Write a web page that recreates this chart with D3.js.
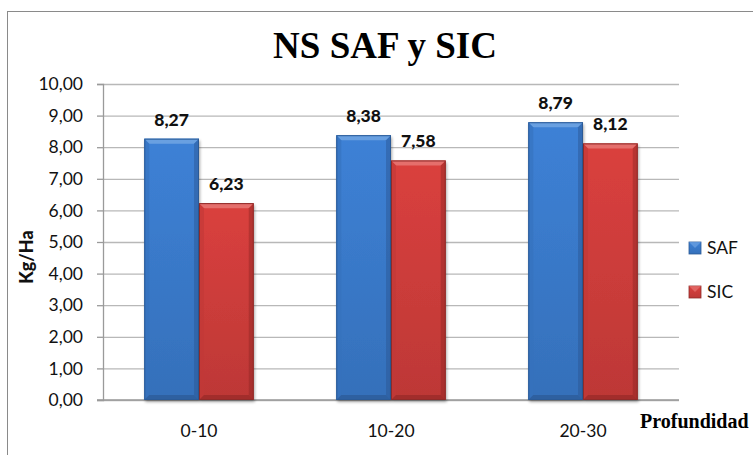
<!DOCTYPE html>
<html>
<head>
<meta charset="utf-8">
<script src="https://cdn.jsdelivr.net/npm/d3@7"></script>
<style>
  html, body { margin: 0; padding: 0; background: #fff; }
  svg { display: block; }
</style>
</head>
<body>
<svg id="chart" width="753" height="455"></svg>
<script>
// Data
const categories = ["0-10", "10-20", "20-30"];
const seriesNames = ["SAF", "SIC"];
const safValues = [8.27, 8.38, 8.79];
const sicValues = [6.23, 7.58, 8.12];
const yTicks = [0, 1, 2, 3, 4, 5, 6, 7, 8, 9, 10];
const titleText = "NS SAF y SIC";
const yTitle = "Kg/Ha";
const xTitle = "Profundidad";

const seriesValues = [safValues, sicValues];
const palette = {
  SAF: { base: "#3a7acb", light: "#6ea3e2", dark: "#2a5590", edge: "#2b5a96" },
  SIC: { base: "#cf3d3b", light: "#e57471", dark: "#8f2624", edge: "#8e2b29" }
};

const svg = d3.select("#chart");
const margin = { left: 103, right: 679, top: 84, bottom: 400 };

const fmt = v => v.toFixed(2).replace(".", ",");

// Outer chart frame
svg.append("rect")
  .attr("x", 7.5).attr("y", 11.5)
  .attr("width", 820).attr("height", 520)
  .attr("fill", "#fff").attr("stroke", "#8a8a8a").attr("stroke-width", 1);

// Scales
const y = d3.scaleLinear().domain([0, 10]).range([margin.bottom, margin.top]);
const x0 = d3.scaleBand().domain(categories).range([margin.left, margin.right]).paddingInner(0.43).paddingOuter(0.215);
const x1 = d3.scaleBand().domain(seriesNames).range([0, x0.bandwidth()]).padding(0);

// Gradients
const defs = svg.append("defs");
seriesNames.forEach(name => {
  const c = palette[name];
  const g = defs.append("linearGradient").attr("id", "grad-" + name)
    .attr("x1", 0).attr("x2", 0).attr("y1", 0).attr("y2", 1);
  g.append("stop").attr("offset", "0%").attr("stop-color", d3.color(c.base).brighter(0.15));
  g.append("stop").attr("offset", "100%").attr("stop-color", d3.color(c.base).darker(0.25));
});
const sh = defs.append("filter").attr("id", "shadow").attr("x", "-10%").attr("y", "-10%").attr("width", "130%").attr("height", "130%");
sh.append("feGaussianBlur").attr("in", "SourceAlpha").attr("stdDeviation", 1.5);
sh.append("feOffset").attr("dx", 1).attr("dy", 2).attr("result", "b");
const shc = sh.append("feComponentTransfer");
shc.append("feFuncA").attr("type", "linear").attr("slope", 0.35);
const mg = sh.append("feMerge");
mg.append("feMergeNode");
mg.append("feMergeNode").attr("in", "SourceGraphic");

// Gridlines
svg.append("g")
  .attr("transform", `translate(${margin.left},0)`)
  .call(d3.axisLeft(y).tickValues(yTicks).tickSize(-(margin.right - margin.left)).tickFormat(""))
  .call(g => g.select(".domain").remove())
  .call(g => g.selectAll(".tick line").attr("stroke", "#b8b8b8").attr("stroke-width", 1.3));

// Y axis with ticks and labels
const yAxis = svg.append("g")
  .attr("transform", `translate(${margin.left},0)`)
  .call(d3.axisLeft(y).tickValues(yTicks).tickSize(6).tickPadding(14).tickFormat(fmt));
yAxis.select(".domain").attr("stroke", "#9a9a9a").attr("stroke-width", 1.3);
yAxis.selectAll(".tick line").attr("stroke", "#9a9a9a").attr("stroke-width", 1.3);
yAxis.selectAll(".tick text")
  .attr("font-family", "Lato, 'Open Sans', sans-serif")
  .attr("font-size", 17.5).attr("fill", "#111");

// X axis baseline
svg.append("line")
  .attr("x1", margin.left - 6).attr("x2", margin.right)
  .attr("y1", y(0)).attr("y2", y(0))
  .attr("stroke", "#9a9a9a").attr("stroke-width", 1.3);

// Bars with bevelled edges
const bv = 5;
categories.forEach((cat, ci) => {
  seriesNames.forEach((name, si) => {
    const v = seriesValues[si][ci];
    const c = palette[name];
    const bx = x0(cat) + x1(name);
    const bw = x1.bandwidth();
    const by = y(v);
    const bh = y(0) - y(v);
    const g = svg.append("g");
    g.append("rect")
      .attr("x", bx).attr("y", by).attr("width", bw).attr("height", bh)
      .attr("fill", `url(#grad-${name})`)
      .attr("filter", "url(#shadow)");
    // top bevel
    g.append("polygon")
      .attr("points", [[bx, by], [bx + bw, by], [bx + bw - bv, by + bv], [bx + bv, by + bv]].join(" "))
      .attr("fill", c.light).attr("opacity", 0.9);
    // left bevel
    g.append("polygon")
      .attr("points", [[bx, by], [bx + bv, by + bv], [bx + bv, by + bh - bv], [bx, by + bh]].join(" "))
      .attr("fill", d3.color(c.base).darker(0.2)).attr("opacity", 0.6);
    // right bevel
    g.append("polygon")
      .attr("points", [[bx + bw, by], [bx + bw - bv, by + bv], [bx + bw - bv, by + bh - bv], [bx + bw, by + bh]].join(" "))
      .attr("fill", c.dark).attr("opacity", 0.45);
    // bottom bevel
    g.append("polygon")
      .attr("points", [[bx, by + bh], [bx + bv, by + bh - bv], [bx + bw - bv, by + bh - bv], [bx + bw, by + bh]].join(" "))
      .attr("fill", c.dark).attr("opacity", 0.6);
    g.append("rect")
      .attr("x", bx + 0.5).attr("y", by + 0.5).attr("width", bw - 1).attr("height", bh - 1)
      .attr("fill", "none").attr("stroke", c.edge).attr("stroke-width", 1);
    // value label
    svg.append("text")
      .attr("x", bx + bw / 2).attr("y", by - 13)
      .attr("text-anchor", "middle")
      .attr("font-family", "Lato, 'Open Sans', sans-serif")
      .attr("font-weight", "900").attr("font-size", 17.5).attr("fill", "#111")
      .text(fmt(v));
  });
});

// Category labels
svg.append("g").selectAll("text").data(categories).join("text")
  .attr("x", d => x0(d) + x0.bandwidth() / 2)
  .attr("y", 437)
  .attr("text-anchor", "middle")
  .attr("font-family", "Lato, 'Open Sans', sans-serif")
  .attr("font-size", 17.5).attr("fill", "#111")
  .text(d => d);

// Title
svg.append("text")
  .attr("x", 385).attr("y", 58)
  .attr("text-anchor", "middle")
  .attr("font-family", "'Liberation Serif', 'Times New Roman', serif")
  .attr("font-weight", "bold").attr("font-size", 37).attr("fill", "#000")
  .text(titleText);

// Axis titles
svg.append("text")
  .attr("transform", "translate(33,257) rotate(-90)")
  .attr("text-anchor", "middle")
  .attr("font-family", "Lato, 'Open Sans', sans-serif")
  .attr("font-weight", "900").attr("font-size", 18).attr("fill", "#111")
  .text(yTitle);

svg.append("text")
  .attr("x", 640).attr("y", 428)
  .attr("font-family", "'Liberation Serif', 'Times New Roman', serif")
  .attr("font-weight", "bold").attr("font-size", 20).attr("fill", "#000")
  .text(xTitle);

// Legend
const legend = svg.append("g").selectAll("g").data(seriesNames).join("g")
  .attr("transform", (d, i) => `translate(689,${242 + i * 44})`);
legend.append("rect")
  .attr("width", 12).attr("height", 12)
  .attr("fill", d => `url(#grad-${d})`)
  .attr("stroke", d => palette[d].edge).attr("stroke-width", 0.8);
legend.append("polygon")
  .attr("points", "0,0 12,0 6,6")
  .attr("fill", d => palette[d].light).attr("opacity", 0.7);
legend.append("text")
  .attr("x", 18).attr("y", 12)
  .attr("font-family", "Lato, 'Open Sans', sans-serif")
  .attr("font-size", 17.5).attr("fill", "#111")
  .text(d => d);
</script>
</body>
</html>
